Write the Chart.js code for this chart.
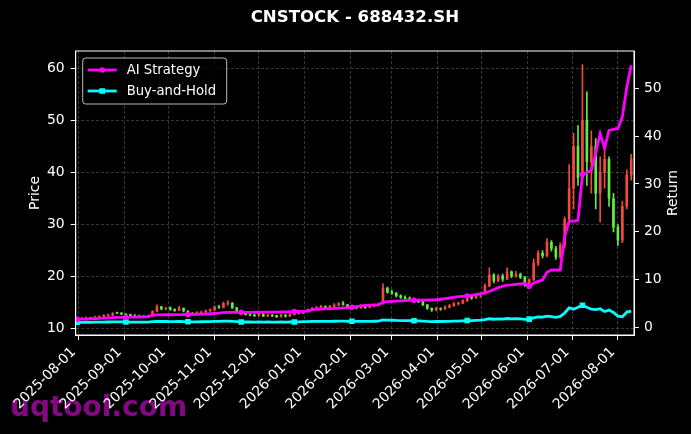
<!DOCTYPE html>
<html>
<head>
<meta charset="utf-8">
<title>CNSTOCK - 688432.SH</title>
<script src="https://cdn.jsdelivr.net/npm/chart.js@4.4.1/dist/chart.umd.min.js"></script>
<style>
  html, body { margin: 0; padding: 0; background: #000; }
  canvas { display: block; }
</style>
</head>
<body>
<canvas id="chart" width="691" height="434"></canvas>
<script>
// --- DATA ---
const chartTitle = 'CNSTOCK - 688432.SH';
const watermark = 'uqtool.com';

// month ticks (days counted from 2025-08-01)
const monthLabels = ['2025-08-01', '2025-09-01', '2025-10-01', '2025-11-01', '2025-12-01', '2026-01-01',
    '2026-02-01', '2026-03-01', '2026-04-01', '2026-05-01', '2026-06-01', '2026-07-01', '2026-08-01'];
const monthDays = [0, 31, 61, 92, 122, 153, 184, 212, 243, 273, 304, 334, 365];
const priceTicks = [10, 20, 30, 40, 50, 60];
const returnTicks = [0, 10, 20, 30, 40, 50];

// sample days (days since 2025-08-01)
const days = [
    -1, 2, 5, 8, 11, 14, 17, 20, 23, 26,
    29, 32, 35, 38, 41, 44, 47, 50, 53, 56,
    59, 62, 65, 68, 71, 74, 77, 80, 83, 86,
    89, 92, 95, 98, 101, 104, 107, 110, 113, 116,
    119, 122, 125, 128, 131, 134, 137, 140, 143, 146,
    149, 152, 155, 158, 161, 164, 167, 170, 173, 176,
    179, 182, 185, 188, 191, 194, 197, 200, 203, 206,
    209, 212, 215, 218, 221, 224, 227, 230, 233, 236,
    239, 242, 245, 248, 251, 254, 257, 260, 263, 266,
    269, 272, 275, 278, 281, 284, 287, 290, 293, 296,
    299, 302, 305, 308, 311, 314, 317, 320, 323, 326,
    329, 332, 335, 338, 341, 344, 347, 350, 353, 356,
    359, 362, 365, 368, 371, 374
];

const opens = [
    11.8, 11.9, 12.0, 12.1, 12.0, 12.2, 12.3, 12.5, 12.6, 13.1,
    13.0, 12.8, 12.7, 12.5, 12.4, 12.3, 12.2, 12.4, 13.3, 14.2,
    13.8, 14.0, 13.7, 13.5, 13.9, 13.4, 13.0, 12.9, 13.1, 13.2,
    13.4, 13.6, 14.2, 14.1, 14.8, 14.9, 14.0, 13.3, 12.9, 12.7,
    12.6, 12.5, 12.8, 12.4, 12.6, 12.5, 12.3, 12.6, 12.4, 12.7,
    12.9, 13.0, 13.3, 13.6, 13.9, 14.0, 14.3, 14.0, 14.3, 14.5,
    14.8, 14.6, 14.2, 14.3, 14.0, 14.4, 14.1, 14.3, 14.5, 14.8,
    17.8, 17.0, 16.8, 16.3, 16.0, 15.8, 15.7, 15.5, 15.2, 14.6,
    13.9, 13.6, 13.9, 13.8, 14.1, 14.4, 14.8, 14.9, 15.4, 16.1,
    15.9, 16.5, 16.8, 18.2, 20.3, 19.2, 20.1, 19.5, 20.9, 20.1,
    20.5, 19.9, 18.7, 19.4, 22.6, 24.5, 24.0, 26.6, 25.4, 23.8,
    26.0, 31.0, 37.0, 45.0, 39.0, 50.0, 42.0, 45.0, 36.0, 40.0,
    42.5, 35.0, 29.5, 27.0, 33.5, 39.5
];
const highs = [
    12.1, 12.2, 12.3, 12.2, 12.4, 12.5, 12.7, 12.8, 13.1, 13.2,
    13.1, 12.9, 12.8, 12.7, 12.6, 12.5, 12.6, 13.5, 14.6, 14.3,
    14.1, 14.2, 13.8, 14.3, 14.0, 13.5, 13.1, 13.3, 13.4, 13.6,
    13.8, 14.4, 14.5, 15.1, 15.4, 15.0, 14.1, 13.4, 13.0, 12.9,
    12.8, 13.0, 12.9, 12.8, 12.7, 12.6, 12.8, 12.7, 12.9, 13.1,
    13.2, 13.5, 13.8, 14.1, 14.3, 14.5, 14.4, 14.5, 14.8, 15.0,
    15.2, 14.7, 14.5, 14.4, 14.6, 14.5, 14.5, 14.7, 14.9, 18.6,
    18.0, 17.4, 17.0, 16.5, 16.3, 16.1, 15.9, 15.6, 15.3, 14.7,
    14.0, 14.1, 14.0, 14.4, 14.7, 15.0, 15.1, 15.6, 16.4, 16.5,
    16.7, 17.0, 18.6, 21.7, 20.6, 20.4, 20.5, 21.7, 21.1, 21.0,
    20.7, 20.0, 19.6, 23.4, 25.0, 25.0, 27.3, 26.9, 25.8, 26.5,
    31.5, 41.5, 47.5, 49.0, 60.7, 55.5, 48.0, 46.5, 43.0, 44.7,
    43.0, 36.0, 30.0, 34.5, 40.5, 43.5
];
const lows = [
    11.7, 11.8, 11.9, 11.9, 11.9, 12.1, 12.2, 12.4, 12.5, 12.9,
    12.7, 12.6, 12.4, 12.3, 12.2, 12.1, 12.1, 12.3, 13.2, 13.6,
    13.6, 13.5, 13.3, 13.4, 13.2, 12.9, 12.7, 12.8, 13.0, 13.1,
    13.3, 13.5, 13.9, 14.0, 14.5, 13.9, 13.2, 12.8, 12.6, 12.5,
    12.3, 12.4, 12.3, 12.3, 12.3, 12.1, 12.2, 12.2, 12.3, 12.6,
    12.8, 12.9, 13.2, 13.5, 13.8, 13.9, 13.9, 13.9, 14.2, 14.4,
    14.5, 14.1, 14.1, 13.8, 13.9, 13.9, 14.0, 14.2, 14.4, 14.7,
    16.8, 16.6, 16.1, 15.8, 15.6, 15.5, 15.3, 15.0, 14.4, 13.7,
    13.3, 13.4, 13.5, 13.7, 14.0, 14.3, 14.5, 14.8, 15.2, 15.6,
    15.8, 16.0, 16.7, 18.0, 18.8, 19.0, 19.1, 19.4, 19.8, 19.9,
    19.6, 18.1, 18.5, 19.2, 22.1, 23.6, 23.8, 24.9, 23.3, 23.5,
    25.5, 30.0, 33.0, 37.5, 38.0, 37.5, 36.0, 33.0, 30.5, 37.0,
    33.5, 28.6, 26.0, 26.5, 33.0, 38.5
];
const closes = [
    11.9, 12.0, 12.1, 12.0, 12.2, 12.3, 12.5, 12.6, 12.9, 13.0,
    12.8, 12.7, 12.5, 12.4, 12.3, 12.2, 12.4, 13.3, 14.2, 13.8,
    13.9, 13.7, 13.5, 13.9, 13.4, 13.0, 12.9, 13.1, 13.2, 13.4,
    13.6, 14.2, 14.1, 14.8, 14.9, 14.0, 13.3, 12.9, 12.7, 12.6,
    12.5, 12.8, 12.4, 12.6, 12.5, 12.3, 12.6, 12.4, 12.7, 12.9,
    13.0, 13.3, 13.6, 13.9, 14.0, 14.3, 14.0, 14.3, 14.5, 14.8,
    14.6, 14.2, 14.3, 14.0, 14.4, 14.1, 14.3, 14.5, 14.7, 17.8,
    17.0, 16.8, 16.3, 16.0, 15.8, 15.7, 15.5, 15.2, 14.6, 13.9,
    13.6, 13.9, 13.8, 14.1, 14.4, 14.8, 14.9, 15.4, 16.1, 15.9,
    16.5, 16.8, 18.2, 20.3, 19.2, 20.1, 19.5, 20.9, 20.1, 20.5,
    19.9, 18.7, 19.4, 22.6, 24.5, 24.0, 26.6, 25.4, 23.8, 26.0,
    31.0, 37.0, 45.0, 39.0, 50.0, 42.0, 45.0, 36.0, 40.0, 42.5,
    35.0, 29.5, 27.0, 33.5, 39.5, 42.5
];

// cumulative return curves (right axis)
const aiStrategy = [
    1.67, 1.70, 1.74, 1.78, 1.82, 1.86, 1.92, 1.98, 2.04, 2.08,
    2.10, 2.10, 2.12, 2.14, 2.16, 2.18, 2.20, 2.58, 2.62, 2.62,
    2.64, 2.64, 2.66, 2.68, 2.68, 2.70, 2.72, 2.74, 2.76, 2.80,
    2.84, 2.90, 2.96, 3.10, 3.12, 3.12, 3.12, 3.14, 3.14, 3.14,
    3.16, 3.16, 3.18, 3.18, 3.20, 3.20, 3.22, 3.24, 3.26, 3.30,
    3.32, 3.36, 3.42, 3.70, 3.76, 3.84, 3.88, 3.92, 3.98, 4.04,
    4.08, 4.12, 4.20, 4.32, 4.48, 4.60, 4.64, 4.68, 4.70, 5.30,
    5.38, 5.44, 5.50, 5.55, 5.60, 5.64, 5.68, 5.70, 5.70, 5.72,
    5.74, 5.78, 5.88, 6.00, 6.14, 6.28, 6.42, 6.50, 6.56, 6.70,
    6.84, 7.00, 7.20, 7.50, 7.90, 8.30, 8.60, 8.85, 8.90, 9.00,
    9.10, 9.20, 8.60, 9.30, 9.60, 9.90, 11.50, 12.00, 12.00, 12.00,
    19.00, 22.20, 22.20, 22.40, 32.00, 32.40, 32.80, 36.50, 40.50, 37.50,
    41.20, 41.40, 41.60, 44.00, 50.20, 54.80
];
const buyHold = [
    1.05, 1.06, 1.07, 1.06, 1.08, 1.09, 1.11, 1.12, 1.14, 1.15,
    1.13, 1.12, 1.11, 1.10, 1.09, 1.08, 1.10, 1.18, 1.26, 1.22,
    1.23, 1.21, 1.19, 1.23, 1.19, 1.15, 1.14, 1.16, 1.17, 1.19,
    1.20, 1.26, 1.25, 1.31, 1.32, 1.24, 1.18, 1.14, 1.12, 1.12,
    1.11, 1.13, 1.10, 1.12, 1.11, 1.09, 1.12, 1.10, 1.12, 1.14,
    1.15, 1.18, 1.20, 1.23, 1.24, 1.27, 1.24, 1.27, 1.28, 1.31,
    1.29, 1.26, 1.27, 1.24, 1.27, 1.25, 1.27, 1.28, 1.30, 1.58,
    1.50, 1.49, 1.44, 1.42, 1.40, 1.39, 1.37, 1.35, 1.29, 1.23,
    1.20, 1.23, 1.22, 1.25, 1.27, 1.31, 1.32, 1.36, 1.42, 1.41,
    1.46, 1.49, 1.61, 1.80, 1.70, 1.78, 1.73, 1.85, 1.78, 1.81,
    1.76, 1.65, 1.72, 2.00, 2.17, 2.12, 2.35, 2.25, 2.11, 2.30,
    3.00, 4.10, 3.80, 4.20, 4.60, 4.20, 3.80, 3.70, 3.90, 3.30,
    3.60, 3.10, 2.35, 2.20, 3.20, 3.40
];
const markerIdx = [0, 11, 25, 37, 49, 62, 76, 88, 102, 114];

// --- STYLE ---
const FONT = 'DejaVu Sans';
const UP_COLOR = 'rgb(240, 74, 58)';
const DOWN_COLOR = 'rgb(98, 236, 64)';
const AI_COLOR = '#ff00ff';
const BH_COLOR = '#00ffff';
const GRID_COLOR = 'rgba(150, 150, 150, 0.45)';

const candleColors = closes.map((c, i) => c >= opens[i] ? UP_COLOR : DOWN_COLOR);

// --- PLUGINS ---
const backgroundPlugin = {
    id: 'backdrop',
    beforeDraw(chart) {
        const ctx = chart.ctx;
        ctx.save();
        ctx.fillStyle = '#000';
        ctx.fillRect(0, 0, chart.width, chart.height);
        // watermark sits under the tick labels
        ctx.fillStyle = 'rgb(132, 8, 132)';
        ctx.font = `bold 28px "${FONT}"`;
        ctx.textAlign = 'left';
        ctx.textBaseline = 'alphabetic';
        ctx.fillText(watermark, 10, 416);
        ctx.restore();
    }
};

const decorPlugin = {
    id: 'decor',
    afterDraw(chart) {
        const { ctx, chartArea: a } = chart;
        ctx.save();

        // frame
        ctx.strokeStyle = '#fff';
        ctx.lineWidth = 1;
        ctx.strokeRect(a.left, a.top, a.right - a.left, a.bottom - a.top);

        // title
        ctx.fillStyle = '#fff';
        ctx.font = `bold 16.6px "${FONT}"`;
        ctx.textAlign = 'center';
        ctx.textBaseline = 'middle';
        ctx.fillText(chartTitle, (a.left + a.right) / 2, 18);

        // axis titles
        ctx.font = `13.9px "${FONT}"`;
        const midY = (a.top + a.bottom) / 2;
        [['Price', 35], ['Return', 673]].forEach(([txt, x]) => {
            ctx.save();
            ctx.translate(x, midY);
            ctx.rotate(-Math.PI / 2);
            ctx.fillText(txt, 0, 0);
            ctx.restore();
        });

        // legend
        const lx = a.left + 7, ly = a.top + 7, lw = 144, lh = 46;
        ctx.beginPath();
        ctx.roundRect(lx, ly, lw, lh, 3);
        ctx.fillStyle = 'rgba(0, 0, 0, 0.8)';
        ctx.fill();
        ctx.strokeStyle = 'rgba(220, 220, 220, 0.85)';
        ctx.lineWidth = 1;
        ctx.stroke();

        const entries = [
            { label: 'AI Strategy', color: AI_COLOR, style: 'circle', y: ly + 12 },
            { label: 'Buy-and-Hold', color: BH_COLOR, style: 'rect', y: ly + 33 }
        ];
        entries.forEach(e => {
            ctx.strokeStyle = e.color;
            ctx.lineWidth = 2.8;
            ctx.beginPath();
            ctx.moveTo(lx + 5, e.y);
            ctx.lineTo(lx + 34, e.y);
            ctx.stroke();
            ctx.fillStyle = e.color;
            if (e.style === 'circle') {
                ctx.beginPath();
                ctx.arc(lx + 19.5, e.y, 2.8, 0, Math.PI * 2);
                ctx.fill();
            } else {
                ctx.fillRect(lx + 19.5 - 2.8, e.y - 2.8, 5.6, 5.6);
            }
            ctx.fillStyle = '#fff';
            ctx.font = `13.2px "${FONT}"`;
            ctx.textAlign = 'left';
            ctx.textBaseline = 'middle';
            ctx.fillText(e.label, lx + 44, e.y + 0.5);
        });

        ctx.restore();
    }
};

// --- CHART ---
const tickFont = { family: FONT, size: 13.9 };
const markerRadius = (r) => (c) => markerIdx.includes(c.dataIndex) ? r : 0;

new Chart(document.getElementById('chart').getContext('2d'), {
    type: 'bar',
    data: {
        datasets: [
            {
                type: 'line',
                label: 'AI Strategy',
                yAxisID: 'y1',
                data: aiStrategy.map((v, i) => ({ x: days[i], y: v })),
                borderColor: AI_COLOR,
                borderWidth: 2.8,
                tension: 0,
                pointStyle: 'circle',
                pointRadius: markerRadius(2.8),
                pointBackgroundColor: AI_COLOR,
                pointBorderWidth: 0,
                order: 0
            },
            {
                type: 'line',
                label: 'Buy-and-Hold',
                yAxisID: 'y1',
                data: buyHold.map((v, i) => ({ x: days[i], y: v })),
                borderColor: BH_COLOR,
                borderWidth: 2.8,
                tension: 0,
                pointStyle: 'rect',
                pointRadius: markerRadius(3.9),
                pointBackgroundColor: BH_COLOR,
                pointBorderWidth: 0,
                order: 1
            },
            {
                label: 'body',
                yAxisID: 'y',
                data: opens.map((o, i) => ({ x: days[i], y: [o, closes[i]] })),
                backgroundColor: candleColors,
                borderWidth: 0,
                barThickness: 2,
                grouped: false,
                order: 2
            },
            {
                label: 'wick',
                yAxisID: 'y',
                data: lows.map((l, i) => ({ x: days[i], y: [l, highs[i]] })),
                backgroundColor: candleColors,
                borderWidth: 0,
                barThickness: 1,
                grouped: false,
                order: 3
            }
        ]
    },
    options: {
        responsive: false,
        animation: false,
        devicePixelRatio: 1,
        events: [],
        layout: { padding: { top: 51, left: 0, right: 0, bottom: 0 } },
        plugins: {
            legend: { display: false },
            title: { display: false },
            tooltip: { enabled: false }
        },
        scales: {
            x: {
                type: 'linear',
                min: -2.0,
                max: 375.9,
                offset: false,
                afterBuildTicks: s => { s.ticks = monthDays.map(v => ({ value: v })); },
                afterFit: s => { s.height = 99; },
                ticks: {
                    autoSkip: false,
                    minRotation: 45,
                    maxRotation: 45,
                    color: '#fff',
                    font: tickFont,
                    padding: 4,
                    labelOffset: -5,
                    callback: v => monthLabels[monthDays.indexOf(v)]
                },
                grid: { color: GRID_COLOR, lineWidth: 0.8, offset: false, tickColor: '#fff', tickLength: 5, tickWidth: 1 },
                border: { color: '#fff', width: 1, dash: [3, 2] }
            },
            y: {
                position: 'left',
                min: 8.79,
                max: 63.32,
                afterBuildTicks: s => { s.ticks = priceTicks.map(v => ({ value: v })); },
                afterFit: s => { s.width = 75.7; },
                ticks: { color: '#fff', font: tickFont, padding: 6 },
                grid: { color: GRID_COLOR, lineWidth: 0.8, tickColor: '#fff', tickLength: 5, tickWidth: 1 },
                border: { color: '#fff', width: 1, dash: [3, 2] }
            },
            y1: {
                position: 'right',
                min: -1.6,
                max: 57.8,
                afterBuildTicks: s => { s.ticks = returnTicks.map(v => ({ value: v })); },
                afterFit: s => { s.width = 57; },
                ticks: { color: '#fff', font: tickFont, padding: 5 },
                grid: { drawOnChartArea: false, tickColor: '#fff', tickLength: 5, tickWidth: 1 },
                border: { color: '#fff', width: 1 }
            }
        }
    },
    plugins: [backgroundPlugin, decorPlugin]
});
</script>
</body>
</html>
